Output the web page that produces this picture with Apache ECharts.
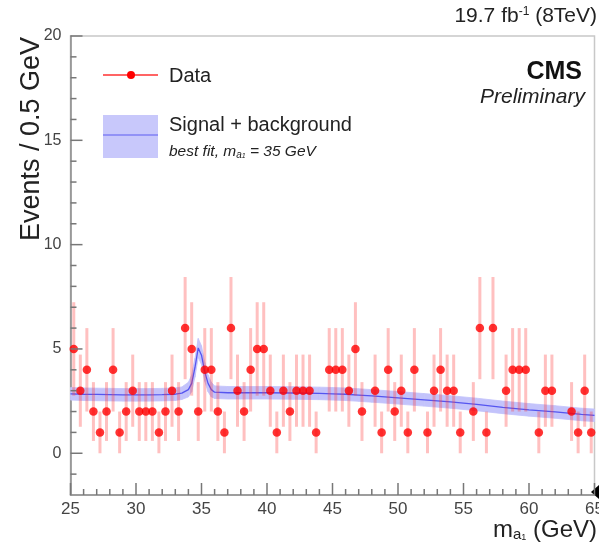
<!DOCTYPE html>
<html><head><meta charset="utf-8">
<script src="https://cdn.jsdelivr.net/npm/echarts@6/dist/echarts.min.js"></script>
<style>html,body{margin:0;padding:0;background:#fff}#c{width:599px;height:549px}</style>
</head><body><div id="c"></div>
<script>
// ---- data ----
const binCenters = [
 25.25,25.75,26.25,26.75,27.25,27.75,28.25,28.75,29.25,29.75,
 30.25,30.75,31.25,31.75,32.25,32.75,33.25,33.75,34.25,34.75,
 35.25,35.75,36.25,36.75,37.25,37.75,38.25,38.75,39.25,39.75,
 40.25,40.75,41.25,41.75,42.25,42.75,43.25,43.75,44.25,44.75,
 45.25,45.75,46.25,46.75,47.25,47.75,48.25,48.75,49.25,49.75,
 50.25,50.75,51.25,51.75,52.25,52.75,53.25,53.75,54.25,54.75,
 55.25,55.75,56.25,56.75,57.25,57.75,58.25,58.75,59.25,59.75,
 60.25,60.75,61.25,61.75,62.25,62.75,63.25,63.75,64.25,64.75];
const dataCounts = [
 5,3,4,2,1,2,4,1,2,3,
 2,2,2,1,2,3,2,6,5,2,
 4,4,2,1,6,3,2,4,5,5,
 3,1,3,2,3,3,3,1,0,4,
 4,4,3,5,2,0,3,1,4,2,
 3,1,4,0,1,3,4,3,3,1,
 0,2,6,1,6,0,3,4,4,4,
 0,1,3,3,0,0,2,1,3,1];
// statistical error per count (sqrt N as drawn)
const errByCount = [0, 1, 1.41, 1.73, 2, 2.24, 2.45];
// signal + background fit
const fitX = [25,26,27,28,29,30,31,32,33,33.5,34,34.25,34.5,34.75,35,35.25,35.5,35.75,36,37,38,40,42,44,45,46,47,48,50,52,54,55,56,58,60,62,64,65];
const fitY = [2.85,2.83,2.82,2.81,2.8,2.8,2.8,2.81,2.83,2.88,3.05,3.35,4.1,5.05,4.7,3.9,3.35,3.05,2.93,2.9,2.9,2.9,2.89,2.87,2.85,2.83,2.79,2.75,2.66,2.56,2.46,2.4,2.34,2.2,2.08,1.98,1.86,1.82];
const fitErr = [0.3,0.3,0.3,0.3,0.3,0.3,0.3,0.3,0.3,0.3,0.35,0.4,0.45,0.45,0.45,0.45,0.4,0.35,0.3,
 0.3,0.3,0.3,0.3,0.3,0.3,0.3,0.3,0.3,0.3,0.3,0.3,0.3,0.3,0.3,0.3,0.3,0.3,0.3];
// axis ticks
const xMajorTicks = [25,30,35,40,45,50,55,60,65];
const xMinorTicks = [26,27,28,29,31,32,33,34,36,37,38,39,41,42,43,44,46,47,48,49,51,52,53,54,56,57,58,59,61,62,63,64];
const yMajorTicks = [0,5,10,15,20];
const yMinorTicks = [-1,1,2,3,4,6,7,8,9,11,12,13,14,16,17,18,19];
const yTitle = 'Events / 0.5 GeV';

// ---- build ----
const X_MIN = 25, X_MAX = 65, Y_MIN = -2, Y_MAX = 20;
const pts = [], bars = [];
binCenters.forEach((x,i)=>{
  const n = dataCounts[i];
  if (n > 0) { pts.push([x,n]); bars.push([x, n-errByCount[n], n+errByCount[n]]); }
});
const band = fitX.map((x,i)=>[x, fitY[i]-fitErr[i], fitY[i]+fitErr[i]]);
const FONT = '"Liberation Sans", Arial, sans-serif';
const axisGrey = '#8a8a8a';
const tickGrey = '#777777';

const chart = echarts.init(document.getElementById('c'), null, {renderer:'canvas'});
chart.setOption({
  animation:false,
  backgroundColor:'#fff',
  grid:{left:70.5, right:4.5, top:36, bottom:54, show:true, borderColor:'#c8c8c8', borderWidth:1.5, outerBoundsMode:'none'},
  xAxis:{type:'value', min:X_MIN, max:X_MAX, interval:5,
    axisLine:{show:true, onZero:false, lineStyle:{color:axisGrey, width:1.5}},
    axisTick:{show:false},
    splitLine:{show:false},
    axisLabel:{fontSize:17, color:'#444', margin:6, fontFamily:FONT, showMinLabel:true, showMaxLabel:true}},
  yAxis:{type:'value', min:Y_MIN, max:Y_MAX, interval:1,
     axisLine:{show:true, onZero:false, lineStyle:{color:axisGrey, width:1.5}},
     axisTick:{show:false},
     splitLine:{show:false},
     axisLabel:{fontSize:16, color:'#444', margin:9, fontFamily:FONT, customValues:yMajorTicks}},
  series:[
    {type:'custom', name:'Signal + background band', z:2, clip:true,
     data:band, encode:{x:0, y:[1,2]},
     renderItem:function(params, api){
       const i = params.dataIndex;
       if (i >= band.length-1) return null;
       const a = band[i], b = band[i+1];
       const p = [api.coord([a[0],a[1]]), api.coord([b[0],b[1]]), api.coord([b[0],b[2]]), api.coord([a[0],a[2]])];
       return {type:'polygon', shape:{points:p}, style:{fill:'#c3c3fb', stroke:'#c3c3fb', lineWidth:0.8}};
     }},
    {type:'line', name:'Signal + background', z:3, data:fitX.map((x,i)=>[x,fitY[i]]),
     symbol:'none', lineStyle:{color:'#5555f0', width:1.3}},
    {type:'custom', name:'Data errors', z:4, clip:true,
     data:bars, encode:{x:0, y:[1,2]},
     renderItem:function(params, api){
       const b = bars[params.dataIndex];
       const p1 = api.coord([b[0], b[1]]), p2 = api.coord([b[0], b[2]]);
       return {type:'line', shape:{x1:p1[0],y1:p1[1],x2:p2[0],y2:p2[1]}, style:{stroke:'rgba(255,60,60,0.32)', lineWidth:3}};
     }},
    {type:'scatter', name:'Data', z:5, data:pts, symbol:'circle', symbolSize:8.5,
     itemStyle:{color:'#ff0000'}}
  ]
});

// tick marks placed through the chart's own scales
const tickGraphics = [];
function addTick(val, horiz, len){
  const p = chart.convertToPixel({gridIndex:0}, val);
  if (!p) return;
  tickGraphics.push({type:'line', z:100, silent:true,
    shape:{x1:p[0], y1:p[1], x2:horiz ? p[0]+len : p[0], y2:horiz ? p[1] : p[1]-len},
    style:{stroke:tickGrey, lineWidth:1.5}});
}
xMajorTicks.forEach(v=>addTick([v, Y_MIN], false, 12));
xMinorTicks.forEach(v=>addTick([v, Y_MIN], false, 6));
yMajorTicks.forEach(v=>addTick([X_MIN, v], true, 12));
yMinorTicks.forEach(v=>addTick([X_MIN, v], true, 6));

chart.setOption({graphic: tickGraphics.concat([
    {type:'text', x:597, y:16, style:{text:'19.7 fb{s|-1} (8TeV)', rich:{s:{fontSize:12, verticalAlign:'top', fill:'#222', fontFamily:FONT}}, font:'21px '+FONT, fill:'#222', textAlign:'right', textVerticalAlign:'middle'}},
    {type:'text', x:582, y:72, style:{text:'CMS', font:'bold 25px '+FONT, fill:'#111', textAlign:'right', textVerticalAlign:'middle'}},
    {type:'text', x:585, y:97, style:{text:'Preliminary', font:'italic 21px '+FONT, fill:'#222', textAlign:'right', textVerticalAlign:'middle'}},
    {type:'line', shape:{x1:103, y1:75, x2:158, y2:75}, style:{stroke:'#ff3030', lineWidth:1.5}},
    {type:'circle', shape:{cx:131, cy:75, r:4}, style:{fill:'#ff0000'}},
    {type:'text', x:169, y:76, style:{text:'Data', font:'20px '+FONT, fill:'#222', textVerticalAlign:'middle'}},
    {type:'rect', shape:{x:103, y:115, width:55, height:43}, style:{fill:'#c8c8fb'}},
    {type:'line', shape:{x1:103, y1:135, x2:158, y2:135}, style:{stroke:'#8080f5', lineWidth:1.3}},
    {type:'text', x:169, y:125, style:{text:'Signal + background', font:'20px '+FONT, fill:'#222', textVerticalAlign:'middle'}},
    {type:'text', x:169, y:152, style:{text:'best fit, m{s|a}{t|1} = 35 GeV', rich:{s:{font:'italic 10px '+FONT, verticalAlign:'bottom', fill:'#222'}, t:{font:'italic 7px '+FONT, verticalAlign:'bottom', fill:'#222'}}, font:'italic 15.5px '+FONT, fill:'#222', textVerticalAlign:'middle'}},
    {type:'text', x:597, y:530, style:{text:'m{s|a}{t|1} (GeV)', rich:{s:{fontSize:15, verticalAlign:'bottom', fill:'#222', fontFamily:FONT}, t:{fontSize:9, verticalAlign:'bottom', fill:'#222', fontFamily:FONT}}, font:'24px '+FONT, fill:'#222', textAlign:'right', textVerticalAlign:'middle'}},
    {type:'text', x:32, y:37, rotation:Math.PI/2, style:{text:yTitle, font:'27px '+FONT, fill:'#222', textAlign:'right', textVerticalAlign:'middle'}},
    {type:'polygon', shape:{points:[[599,485],[591,492],[599,499]]}, style:{fill:'#000'}}
])});
</script></body></html>
